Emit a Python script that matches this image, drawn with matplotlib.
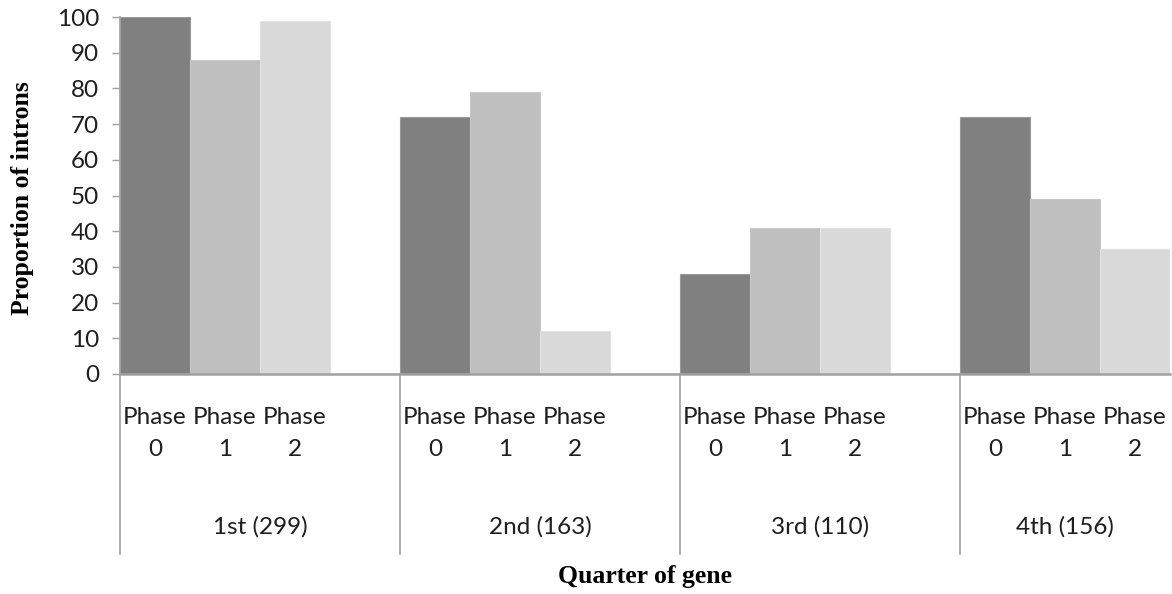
import matplotlib
matplotlib.use("Agg")
import matplotlib.pyplot as plt
import matplotlib.transforms as mtransforms

# Data: proportion of introns by phase in each quarter of the gene
quarters = ["1st (299)", "2nd (163)", "3rd (110)", "4th (156)"]
phase_names = ["Phase", "Phase", "Phase"]
phase_nums = ["0", "1", "2"]
phase0 = [100, 72, 28, 72]
phase1 = [88, 79, 41, 49]
phase2 = [99, 12, 41, 35]
yticks = [0, 10, 20, 30, 40, 50, 60, 70, 80, 90, 100]

colors = ["#808080", "#bfbfbf", "#d9d9d9"]
edges = ["#9a9a9a", "#c8c8c8", "#e2e2e2"]
axis_gray = "#a0a0a0"
text_color = "#1e1e1e"
label_font = ["Lato", "DejaVu Sans"]
fs = 17.5

W, H = 1172, 594
fig = plt.figure(figsize=(W / 100, H / 100), dpi=100)
ax_left, ax_right, ax_top, ax_bottom = 120, 1170, 17, 374
ax = fig.add_axes([ax_left / W, 1 - ax_bottom / H,
                   (ax_right - ax_left) / W, (ax_bottom - ax_top) / H])

series = [phase0, phase1, phase2]
group_step = 4
for j, vals in enumerate(series):
    xs = [i * group_step + j for i in range(len(quarters))]
    ax.bar(xs, vals, width=1.0, align="edge", color=colors[j],
           edgecolor=edges[j], linewidth=0.8, zorder=2)

xmax = group_step * len(quarters) - 1
ax.set_xlim(0, xmax)
ax.set_ylim(0, 100)
ax.set_yticks(yticks)
ax.set_yticklabels([str(t) for t in yticks], fontsize=fs, family=label_font,
                   color=text_color)
ax.tick_params(axis="y", direction="out", length=6, width=1, color=axis_gray, pad=9)
ax.set_xticks([])

for s in ["top", "right"]:
    ax.spines[s].set_visible(False)
ax.spines["left"].set_color(axis_gray)
ax.spines["bottom"].set_color(axis_gray)
ax.spines["left"].set_linewidth(1.2)
ax.spines["bottom"].set_linewidth(1.8)

axh = ax_bottom - ax_top
trans = mtransforms.blended_transform_factory(ax.transData, ax.transAxes)


def below(py):
    """Axes-fraction y for a pixel row below the axis."""
    return -(py - ax_bottom) / axh


# Category separators below the axis
for i in range(len(quarters)):
    x0 = i * group_step
    ax.plot([x0, x0], [0, below(554)], transform=trans,
            color=axis_gray, lw=1.2, clip_on=False)

# Two-level category labels
for i, q in enumerate(quarters):
    for j in range(len(phase_names)):
        xc = i * group_step + j + 0.5
        ax.text(xc, below(418), phase_names[j], transform=trans, ha="center",
                va="center", fontsize=fs, family=label_font, color=text_color)
        ax.text(xc, below(450), phase_nums[j], transform=trans, ha="center",
                va="center", fontsize=fs, family=label_font, color=text_color)
    x_start = i * group_step
    x_end = min((i + 1) * group_step, xmax)
    ax.text((x_start + x_end) / 2, below(527), q, transform=trans,
            ha="center", va="center", fontsize=fs, family=label_font,
            color=text_color)

fig.text(645 / W, 1 - 576 / H, "Quarter of gene", ha="center", va="center",
         fontsize=18.5, fontweight="bold", family="Liberation Serif")
fig.text(22 / W, 1 - 198 / H, "Proportion of introns", ha="center", va="center",
         rotation=90, fontsize=18.5, fontweight="bold", family="Liberation Serif")

fig.savefig("out.png", dpi=100)
